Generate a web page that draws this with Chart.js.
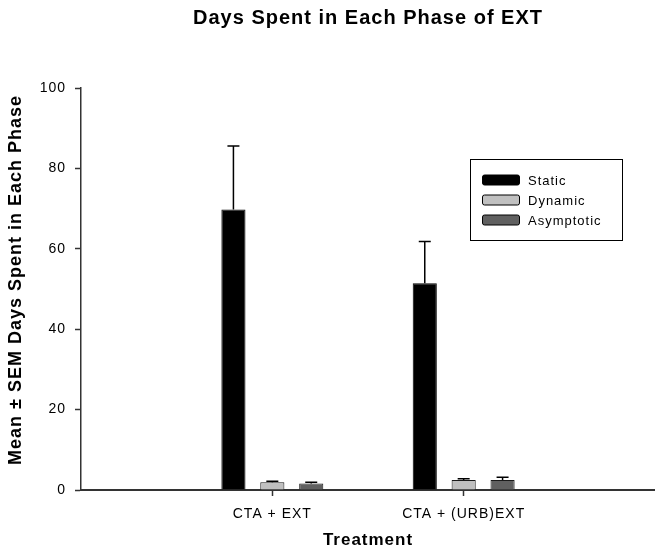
<!DOCTYPE html>
<html>
<head>
<meta charset="utf-8">
<title>Days Spent in Each Phase of EXT</title>
<script src="https://cdn.jsdelivr.net/npm/chart.js@4/dist/chart.umd.min.js"></script>
<style>
  html, body { margin: 0; padding: 0; background: #fff; }
  #wrap { width: 655px; height: 558px; position: relative; }
</style>
</head>
<body>
<div id="wrap"><canvas id="phaseChart"></canvas></div>
<script>
// chart values
const categories = ["CTA + EXT", "CTA + (URB)EXT"];
const seriesNames = ["Static", "Dynamic", "Asymptotic"];
const staticMean = [69.8, 51.4];
const staticSem = [15.8, 10.4];
const dynamicMean = [1.9, 2.5];
const dynamicSem = [0.3, 0.3];
const asymptoticMean = [1.6, 2.5];
const asymptoticSem = [0.3, 0.7];
const yTicks = [0, 20, 40, 60, 80, 100];

const FONT = "'Liberation Sans', Arial, sans-serif";
const semSeries = [staticSem, dynamicSem, asymptoticSem];

// categories sit at x = 1, 2 on a 0..3 linear axis
function toPoints(values) {
  return values.map((v, i) => ({ x: i + 1, y: v }));
}

// ------------------------------
// Plugins
// ------------------------------
const spacingPlugin = {
  id: "spacing",
  beforeDraw(chart) {
    chart.ctx.letterSpacing = "1px";
  }
};

const errorBarPlugin = {
  id: "errorBars",
  afterDatasetsDraw(chart) {
    const ctx = chart.ctx;
    const yScale = chart.scales.y;
    ctx.save();
    ctx.strokeStyle = "#000";
    ctx.lineWidth = 1.5;
    chart.data.datasets.forEach((ds, di) => {
      const meta = chart.getDatasetMeta(di);
      meta.data.forEach((bar, j) => {
        const top = yScale.getPixelForValue(ds.data[j].y + semSeries[di][j]);
        ctx.beginPath();
        ctx.moveTo(bar.x, bar.y);
        ctx.lineTo(bar.x, top);
        ctx.moveTo(bar.x - 6, top);
        ctx.lineTo(bar.x + 6, top);
        ctx.stroke();
      });
    });
    ctx.restore();
  }
};

const boxLegendPlugin = {
  id: "boxLegend",
  afterDraw(chart, args, opts) {
    const ctx = chart.ctx;
    ctx.save();
    ctx.strokeStyle = "#000";
    ctx.lineWidth = 1;
    ctx.strokeRect(opts.left + 0.5, opts.top + 0.5, opts.width, opts.height);
    ctx.font = "13px " + FONT;
    ctx.textBaseline = "middle";
    ctx.textAlign = "left";
    chart.data.datasets.forEach((ds, i) => {
      const cy = opts.firstRow + i * opts.rowGap;
      ctx.fillStyle = ds.backgroundColor;
      ctx.beginPath();
      ctx.roundRect(opts.left + 12.5, cy - 5, 37, 10, 2);
      ctx.fill();
      ctx.strokeStyle = "#000";
      ctx.stroke();
      ctx.fillStyle = "#000";
      ctx.fillText(ds.label, opts.left + 58, cy + 1);
    });
    ctx.restore();
  }
};

// ------------------------------
// Chart
// ------------------------------
function renderChart() {
  const ctx = document.getElementById("phaseChart").getContext("2d");

  new Chart(ctx, {
    type: "bar",
    data: {
      datasets: [
        { label: seriesNames[0], data: toPoints(staticMean), backgroundColor: "#000000", borderColor: "#000000", borderWidth: 1 },
        { label: seriesNames[1], data: toPoints(dynamicMean), backgroundColor: "#c0c0c0", borderColor: "#1a1a1a", borderWidth: 1 },
        { label: seriesNames[2], data: toPoints(asymptoticMean), backgroundColor: "#606060", borderColor: "#1a1a1a", borderWidth: 1 }
      ]
    },
    options: {
      responsive: true,
      maintainAspectRatio: false,
      animation: false,
      categoryPercentage: 0.61,
      barPercentage: 0.62,
      layout: { padding: 0 },
      plugins: {
        legend: { display: false },
        tooltip: { enabled: false },
        title: {
          display: true,
          fullSize: false,
          text: "Days Spent in Each Phase of EXT",
          color: "#000",
          font: { family: FONT, size: 20, weight: "bold" },
          padding: { top: 6.5, bottom: 57.5 }
        },
        boxLegend: { left: 470, top: 159, width: 152, height: 81, firstRow: 180, rowGap: 20 }
      },
      scales: {
        x: {
          type: "linear",
          min: 0,
          max: 3,
          offset: false,
          afterBuildTicks(scale) {
            scale.ticks = categories.map((c, i) => ({ value: i + 1 }));
          },
          afterFit(scale) { scale.height = 68; },
          border: { display: true, color: "#333", width: 2 },
          grid: { display: true, offset: false, drawOnChartArea: false, drawTicks: true, tickLength: 6, tickColor: "#333", tickWidth: 1.5 },
          ticks: {
            padding: 10,
            color: "#000",
            maxRotation: 0,
            font: { family: FONT, size: 14 },
            callback: (v) => categories[v - 1]
          },
          title: {
            display: true,
            text: "Treatment",
            color: "#000",
            font: { family: FONT, size: 17, weight: "bold" },
            padding: { top: 0, bottom: 7 }
          }
        },
        y: {
          min: 0,
          max: 100,
          afterBuildTicks(scale) {
            scale.ticks = yTicks.map(v => ({ value: v }));
          },
          afterFit(scale) { scale.width = 81; },
          border: { display: true, color: "#333", width: 1.5 },
          grid: { display: true, drawOnChartArea: false, drawTicks: true, tickLength: 6, tickColor: "#333", tickWidth: 1.5 },
          ticks: {
            padding: 9,
            color: "#000",
            font: { family: FONT, size: 14 }
          },
          title: {
            display: true,
            text: "   Mean \u00b1 SEM Days Spent in Each Phase",
            color: "#000",
            font: { family: FONT, size: 18, weight: "bold" },
            padding: { top: 5, bottom: 0 }
          }
        }
      }
    },
    plugins: [spacingPlugin, errorBarPlugin, boxLegendPlugin]
  });
}

document.addEventListener("DOMContentLoaded", renderChart);
</script>
</body>
</html>
